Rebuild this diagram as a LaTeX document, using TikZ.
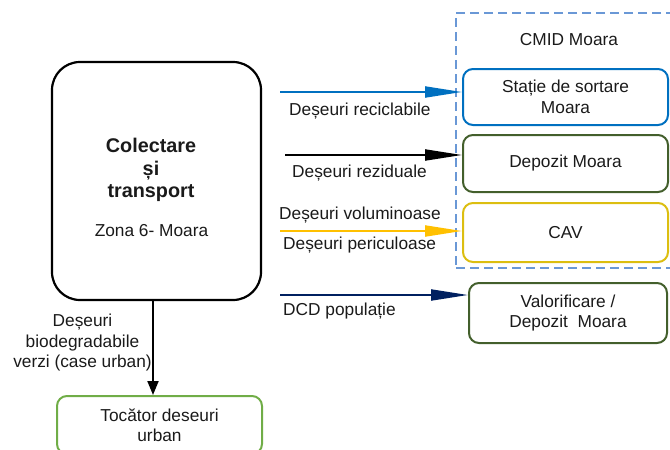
\documentclass[tikz,border=0pt]{standalone}
\usepackage{fontspec}
\setmainfont{Liberation Sans}
\usetikzlibrary{arrows.meta}
\definecolor{cblue}{HTML}{0070C0}
\definecolor{cgold}{HTML}{FFC000}
\definecolor{cnavy}{HTML}{002060}
\definecolor{cdkgreen}{HTML}{435F2C}
\definecolor{cgreen}{HTML}{70AD47}
\definecolor{cyellow}{HTML}{DCBE10}
\definecolor{cdash}{HTML}{6A98D6}
\definecolor{ctext}{HTML}{1A1A1A}
\begin{document}
\begin{tikzpicture}[x=1pt,y=-1pt,
  txt/.style={font=\fontsize{17.3}{20.5}\selectfont, text=ctext, align=center, inner sep=0pt},
  box/.style={txt, draw, rounded corners=10pt, line width=2pt},
  harrow/.style={line width=2pt, -{Triangle[length=37pt,width=11pt]}},
  varrow/.style={line width=2pt, -{Triangle[length=14pt,width=11pt]}}]
\useasboundingbox (0,0) rectangle (670,450);

% dashed CMID frame
\node (cmid) [draw=cdash, line width=2pt, dash pattern=on 9pt off 5pt,
  minimum width=234pt, minimum height=255pt, inner sep=0pt] at (573,140.5) {};
\node (cmidlbl) [txt] at (569,40) {CMID Moara};

% main box
\node (main) [draw, line width=2.2pt, rounded corners=28pt, minimum width=209pt,
  minimum height=238pt, inner sep=0pt] at (156.5,181) {};
\node (title) [txt, font=\bfseries\fontsize{19.8}{22.5}\selectfont] at (151,170)
  {Colectare\\și\\transport};
\node (zona) [txt] at (151.5,231) {Zona 6- Moara};

% right boxes
\node (statie) [box, draw=cblue, minimum width=205pt, minimum height=56pt] at (565.5,97)
  {Stație de sortare\\Moara};
\node (depozit) [box, draw=cdkgreen, minimum width=205pt, minimum height=57pt] at (565.5,163.5)
  {Depozit Moara};
\node (cav) [box, draw=cyellow, minimum width=205pt, minimum height=59pt] at (565.5,232.5)
  {CAV};
\node (valor) [box, draw=cdkgreen, minimum width=198pt, minimum height=60pt] at (568,313)
  {Valorificare /\\Depozit\ \ Moara};

% bottom box
\node (tocator) [box, draw=cgreen, minimum width=205pt, minimum height=58pt] at (159.5,425)
  {Tocător deseuri\\urban};

% horizontal arrows
\coordinate (s1) at (280,92);
\coordinate (s2) at (285,155);
\coordinate (s3) at (280,231);
\coordinate (s4) at (280,295);
\draw[harrow, cblue] (s1) -- (s1 -| statie.west);
\draw[harrow, black] (s2) -- (s2 -| depozit.west);
\draw[harrow, cgold] (s3) -- (s3 -| cav.west);
\draw[harrow, cnavy] (s4) -- (s4 -| valor.west);

\node (l1) [txt, anchor=west] at (289,111) {Deșeuri reciclabile};
\node (l2) [txt, anchor=west] at (292,173) {Deșeuri reziduale};
\node (l3) [txt, anchor=west] at (279,215) {Deșeuri voluminoase};
\node (l4) [txt, anchor=west] at (283,245) {Deșeuri periculoase};
\node (l5) [txt, anchor=west] at (283,311) {DCD populație};

% vertical arrow
\draw[varrow] (main.south -| 153,0) -- (tocator.north -| 153,0);
\node (l6) [txt] at (82.5,343) {Deșeuri\\biodegradabile\\verzi (case urban)};
\end{tikzpicture}
\end{document}
